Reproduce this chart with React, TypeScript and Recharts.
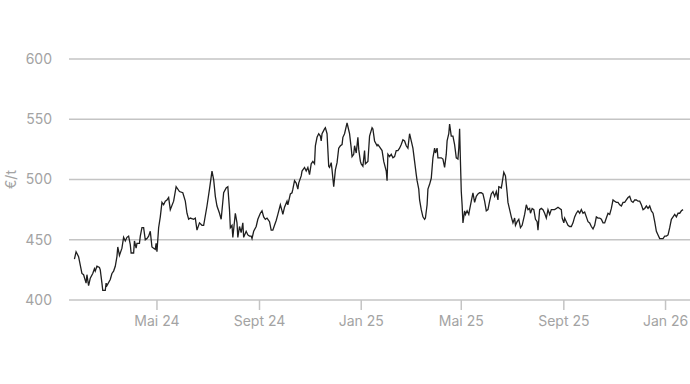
import { LineChart, Line, XAxis, YAxis, CartesianGrid } from "recharts";

// Preis in €/t, Handelstage
const dates = [
  "2024-01-23", "2024-01-25", "2024-01-28", "2024-02-01", "2024-02-03", "2024-02-06", "2024-02-07", "2024-02-09",
  "2024-02-11", "2024-02-14", "2024-02-16", "2024-02-17", "2024-02-19", "2024-02-22", "2024-02-23", "2024-02-25",
  "2024-02-26", "2024-02-29", "2024-03-01", "2024-03-02", "2024-03-06", "2024-03-08", "2024-03-10", "2024-03-12",
  "2024-03-14", "2024-03-15", "2024-03-17", "2024-03-20", "2024-03-22", "2024-03-24", "2024-03-26", "2024-03-28",
  "2024-03-30", "2024-03-31", "2024-04-03", "2024-04-04", "2024-04-06", "2024-04-07", "2024-04-10", "2024-04-11",
  "2024-04-13", "2024-04-15", "2024-04-17", "2024-04-19", "2024-04-21", "2024-04-23", "2024-04-25", "2024-04-27",
  "2024-04-29", "2024-04-30", "2024-05-01", "2024-05-03", "2024-05-05", "2024-05-07", "2024-05-09", "2024-05-11",
  "2024-05-13", "2024-05-15", "2024-05-17", "2024-05-21", "2024-05-24", "2024-05-28", "2024-06-01", "2024-06-04",
  "2024-06-06", "2024-06-08", "2024-06-10", "2024-06-14", "2024-06-16", "2024-06-18", "2024-06-21", "2024-06-24",
  "2024-06-26", "2024-06-30", "2024-07-03", "2024-07-06", "2024-07-08", "2024-07-10", "2024-07-12", "2024-07-15",
  "2024-07-17", "2024-07-20", "2024-07-23", "2024-07-25", "2024-07-27", "2024-07-28", "2024-07-30", "2024-07-31",
  "2024-08-03", "2024-08-05", "2024-08-06", "2024-08-08", "2024-08-10", "2024-08-12", "2024-08-13", "2024-08-16",
  "2024-08-18", "2024-08-20", "2024-08-22", "2024-08-23", "2024-08-25", "2024-08-28", "2024-08-30", "2024-09-02",
  "2024-09-04", "2024-09-06", "2024-09-08", "2024-09-10", "2024-09-13", "2024-09-15", "2024-09-17", "2024-09-19",
  "2024-09-21", "2024-09-23", "2024-09-26", "2024-09-28", "2024-09-29", "2024-10-01", "2024-10-04", "2024-10-05",
  "2024-10-08", "2024-10-10", "2024-10-11", "2024-10-13", "2024-10-15", "2024-10-17", "2024-10-18", "2024-10-21",
  "2024-10-22", "2024-10-25", "2024-10-27", "2024-10-29", "2024-10-31", "2024-11-02", "2024-11-04", "2024-11-06",
  "2024-11-07", "2024-11-09", "2024-11-11", "2024-11-13", "2024-11-14", "2024-11-15", "2024-11-18", "2024-11-19",
  "2024-11-21", "2024-11-23", "2024-11-24", "2024-11-26", "2024-11-27", "2024-11-29", "2024-12-01", "2024-12-03",
  "2024-12-05", "2024-12-07", "2024-12-09", "2024-12-10", "2024-12-12", "2024-12-15", "2024-12-16", "2024-12-18",
  "2024-12-20", "2024-12-21", "2024-12-23", "2024-12-24", "2024-12-26", "2024-12-28", "2024-12-29", "2024-12-31",
  "2025-01-01", "2025-01-03", "2025-01-05", "2025-01-06", "2025-01-09", "2025-01-11", "2025-01-14", "2025-01-15",
  "2025-01-17", "2025-01-20", "2025-01-21", "2025-01-23", "2025-01-26", "2025-01-28", "2025-01-31", "2025-02-01",
  "2025-02-02", "2025-02-04", "2025-02-06", "2025-02-08", "2025-02-10", "2025-02-12", "2025-02-14", "2025-02-16",
  "2025-02-18", "2025-02-20", "2025-02-22", "2025-02-24", "2025-02-26", "2025-02-28", "2025-03-02", "2025-03-04",
  "2025-03-06", "2025-03-08", "2025-03-09", "2025-03-11", "2025-03-12", "2025-03-14", "2025-03-16", "2025-03-18",
  "2025-03-19", "2025-03-21", "2025-03-22", "2025-03-24", "2025-03-26", "2025-03-28", "2025-03-30", "2025-03-31",
  "2025-04-02", "2025-04-03", "2025-04-05", "2025-04-07", "2025-04-09", "2025-04-11", "2025-04-13", "2025-04-14",
  "2025-04-16", "2025-04-17", "2025-04-19", "2025-04-21", "2025-04-23", "2025-04-25", "2025-04-27", "2025-04-28",
  "2025-04-29", "2025-04-30", "2025-05-01", "2025-05-02", "2025-05-03", "2025-05-05", "2025-05-06", "2025-05-08",
  "2025-05-10", "2025-05-11", "2025-05-13", "2025-05-15", "2025-05-17", "2025-05-19", "2025-05-21", "2025-05-23",
  "2025-05-25", "2025-05-27", "2025-05-29", "2025-05-31", "2025-06-02", "2025-06-04", "2025-06-06", "2025-06-08",
  "2025-06-10", "2025-06-12", "2025-06-14", "2025-06-15", "2025-06-18", "2025-06-19", "2025-06-21", "2025-06-23",
  "2025-06-25", "2025-06-26", "2025-06-28", "2025-06-30", "2025-07-02", "2025-07-04", "2025-07-05", "2025-07-07",
  "2025-07-09", "2025-07-11", "2025-07-13", "2025-07-16", "2025-07-18", "2025-07-20", "2025-07-22", "2025-07-23",
  "2025-07-25", "2025-07-27", "2025-07-29", "2025-07-31", "2025-08-01", "2025-08-03", "2025-08-05", "2025-08-07",
  "2025-08-09", "2025-08-11", "2025-08-13", "2025-08-15", "2025-08-17", "2025-08-19", "2025-08-21", "2025-08-23",
  "2025-08-25", "2025-08-27", "2025-08-29", "2025-08-30", "2025-09-01", "2025-09-02", "2025-09-04", "2025-09-06",
  "2025-09-08", "2025-09-10", "2025-09-12", "2025-09-14", "2025-09-16", "2025-09-18", "2025-09-20", "2025-09-22",
  "2025-09-24", "2025-09-26", "2025-09-28", "2025-09-30", "2025-10-02", "2025-10-04", "2025-10-06", "2025-10-08",
  "2025-10-10", "2025-10-12", "2025-10-14", "2025-10-16", "2025-10-18", "2025-10-20", "2025-10-22", "2025-10-24",
  "2025-10-26", "2025-10-28", "2025-10-30", "2025-11-01", "2025-11-03", "2025-11-05", "2025-11-07", "2025-11-09",
  "2025-11-11", "2025-11-13", "2025-11-15", "2025-11-17", "2025-11-19", "2025-11-21", "2025-11-23", "2025-11-25",
  "2025-11-27", "2025-11-29", "2025-12-01", "2025-12-03", "2025-12-05", "2025-12-07", "2025-12-09", "2025-12-11",
  "2025-12-13", "2025-12-15", "2025-12-17", "2025-12-19", "2025-12-21", "2025-12-23", "2025-12-25", "2025-12-27",
  "2025-12-29", "2025-12-31", "2026-01-02", "2026-01-04", "2026-01-06", "2026-01-08", "2026-01-10", "2026-01-12",
  "2026-01-14", "2026-01-16", "2026-01-18", "2026-01-20", "2026-01-22",
];

const prices = [
  434, 440, 436, 422, 421, 414, 421, 412,
  418, 422, 426, 424, 428, 427, 425, 414,
  408, 408, 414, 412, 417, 422, 424, 428,
  436, 444, 437, 443, 452, 449, 452, 453,
  446, 439, 439, 449, 443, 447, 447, 453,
  460, 460, 450, 451, 453, 457, 444, 443,
  442, 447, 440, 460, 469, 481, 479, 482,
  483, 485, 475, 482, 494, 490, 489, 482,
  472, 467, 468, 467, 468, 458, 464, 462,
  462, 478, 492, 507, 500, 486, 478, 472,
  467, 489, 493, 494, 475, 460, 462, 452,
  472, 464, 452, 461, 456, 464, 452, 457,
  454, 453, 453, 451, 457, 461, 467, 472,
  474, 469, 467, 468, 465, 458, 458, 462,
  466, 471, 479, 474, 471, 477, 482, 479,
  488, 489, 492, 499, 497, 492, 497, 503,
  507, 510, 507, 510, 504, 513, 515, 513,
  528, 535, 538, 536, 532, 538, 542, 543,
  538, 511, 510, 514, 508, 494, 508, 514,
  526, 528, 529, 535, 538, 547, 544, 538,
  526, 519, 521, 528, 522, 535, 525, 515,
  513, 511, 524, 513, 515, 536, 543, 542,
  532, 528, 529, 527, 524, 515, 507, 499,
  521, 519, 521, 518, 519, 524, 524, 526,
  529, 533, 532, 528, 526, 538, 532, 526,
  515, 504, 499, 492, 483, 475, 469, 467,
  468, 479, 492, 496, 501, 518, 526, 522,
  526, 518, 518, 518, 517, 510, 521, 532,
  538, 546, 536, 536, 529, 518, 517, 526,
  542, 515, 490, 479, 464, 474, 471, 474,
  471, 475, 482, 489, 481, 486, 488, 489,
  489, 488, 482, 474, 475, 482, 488, 490,
  486, 490, 483, 494, 493, 497, 506, 503,
  489, 481, 475, 469, 464, 468, 462, 465,
  467, 460, 462, 471, 479, 475, 476, 472,
  476, 475, 467, 465, 458, 475, 476, 475,
  472, 468, 475, 471, 475, 475, 475, 476,
  477, 476, 475, 468, 464, 468, 465, 462,
  461, 461, 464, 469, 472, 474, 472, 475,
  472, 473, 469, 465, 464, 461, 459, 462,
  469, 468, 468, 467, 464, 464, 468, 472,
  471, 476, 483, 482, 481, 481, 479, 478,
  481, 481, 483, 485, 486, 482, 481, 483,
  483, 482, 482, 479, 475, 476, 478, 476,
  478, 474, 472, 465, 457, 454, 451, 451,
  451, 453, 453, 454, 460, 467, 469, 471,
  469, 472, 472, 474, 475,
];

const yTicks = [400, 450, 500, 550, 600];
const xTickDates = ["2024-05-01", "2024-09-01", "2025-01-01", "2025-05-01", "2025-09-01", "2026-01-01"];
const monthNames = ["Jan", "Feb", "März", "Apr", "Mai", "Juni", "Juli", "Aug", "Sept", "Okt", "Nov", "Dez"];

const data = dates.map((d, i) => ({ t: Date.parse(d), price: prices[i] }));
const xTicks = xTickDates.map((d) => Date.parse(d));
const xDomain = [Date.parse("2024-01-16T12:00:00Z"), Date.parse("2026-01-30T08:00:00Z")];

const GRAY = "#a3a3a3";
const GRID = "#c4c4c4";

function formatMonth(t: number) {
  const d = new Date(t);
  return `${monthNames[d.getUTCMonth()]} ${String(d.getUTCFullYear()).slice(2)}`;
}

function UnitLabel({ viewBox }: any) {
  const x = 10;
  const y = viewBox.y + viewBox.height / 2;
  return (
    <text
      x={x}
      y={y}
      transform={`rotate(-90, ${x}, ${y})`}
      textAnchor="middle"
      dominantBaseline="central"
      fill={GRAY}
      fontSize={14}
    >
      €/t
    </text>
  );
}

export default function App() {
  return (
    <div style={{ position: "absolute", left: 0, top: 0, width: 690, height: 384, background: "#fff" }}>
      <LineChart
        width={690}
        height={384}
        data={data}
        margin={{ top: 59, right: 0, bottom: 54, left: 0 }}
        style={{ fontFamily: "Inter, 'Open Sans', sans-serif" }}
      >
        <CartesianGrid vertical={false} stroke={GRID} strokeWidth={1.5} />
        <XAxis
          dataKey="t"
          type="number"
          scale="time"
          domain={xDomain}
          ticks={xTicks}
          tickFormatter={formatMonth}
          axisLine={false}
          tickLine={{ stroke: GRID, strokeWidth: 1.5 }}
          tickSize={10}
          tickMargin={6}
          tick={{ fill: GRAY, fontSize: 14 }}
          allowDataOverflow
        />
        <YAxis
          domain={[400, 600]}
          ticks={yTicks}
          width={69}
          axisLine={false}
          tickLine={false}
          tickSize={0}
          tickMargin={17}
          tick={{ fill: GRAY, fontSize: 14 }}
          label={{ content: UnitLabel }}
        />
        <Line
          type="linear"
          dataKey="price"
          stroke="#1f1f1f"
          strokeWidth={1.3}
          dot={false}
          isAnimationActive={false}
        />
      </LineChart>
    </div>
  );
}
